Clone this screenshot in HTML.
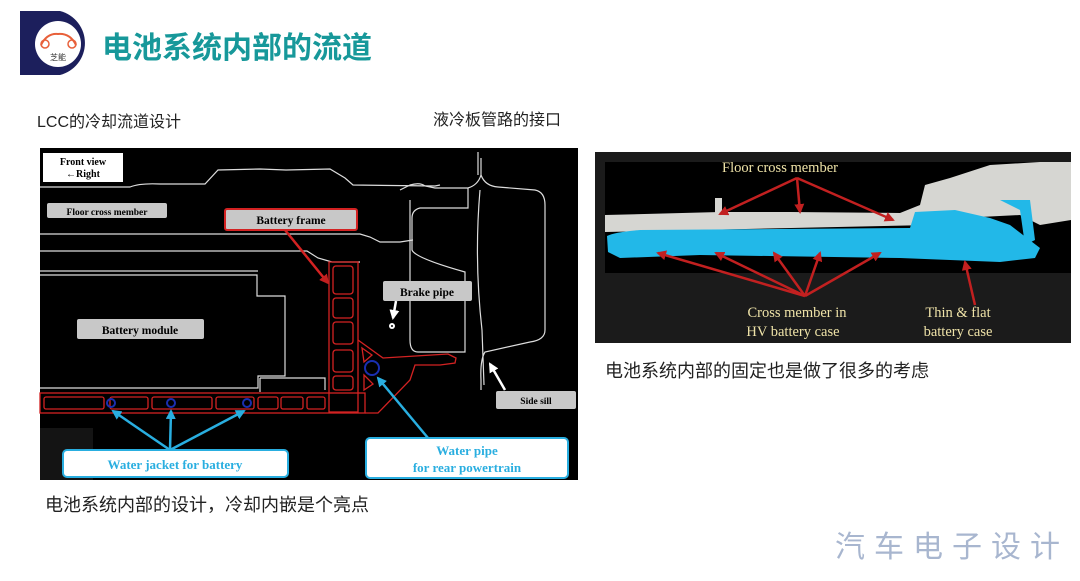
<!DOCTYPE html>
<html><head><meta charset="utf-8"><style>
html,body{margin:0;padding:0;background:#fff;width:1080px;height:581px;overflow:hidden}
.cj{font-family:"Liberation Sans","Noto Sans CJK SC",sans-serif}
</style></head><body>
<svg width="1080" height="581" viewBox="0 0 1080 581" xmlns="http://www.w3.org/2000/svg">
<defs>
<marker id="ab" viewBox="0 0 10 10" refX="8" refY="5" markerWidth="4" markerHeight="4" orient="auto"><path d="M0 0 L10 5 L0 10 Z" fill="#29aee0"/></marker>
<marker id="ar" viewBox="0 0 10 10" refX="8" refY="5" markerWidth="4" markerHeight="4" orient="auto"><path d="M0 0 L10 5 L0 10 Z" fill="#c22020"/></marker>
<marker id="aw" viewBox="0 0 10 10" refX="8" refY="5" markerWidth="4" markerHeight="4" orient="auto"><path d="M0 0 L10 5 L0 10 Z" fill="#fff"/></marker>
</defs>
<!-- logo -->
<path d="M20 11 H60 A33 33 0 0 1 60 75 H20 Z" fill="#1c1f5c"/>
<circle cx="58" cy="44" r="23" fill="#fff"/>
<path d="M41 45 Q47 33 58 34 Q70 33 76 45" fill="none" stroke="#e8603a" stroke-width="2"/>
<circle cx="45" cy="44" r="4" fill="none" stroke="#e8603a" stroke-width="1.5"/>
<circle cx="72" cy="44" r="4" fill="none" stroke="#e8603a" stroke-width="1.5"/>
<text x="58" y="60" font-size="8" text-anchor="middle" fill="#333" class="cj">芝能</text>
<text x="102" y="58" font-size="30" font-weight="bold" fill="#17989a" class="cj">电池系统内部的流道</text>

<text x="37" y="127" font-size="16" fill="#222" class="cj">LCC的冷却流道设计</text>
<text x="433" y="125" font-size="16" fill="#222" class="cj">液冷板管路的接口</text>
<text x="605" y="377" font-size="18" fill="#222" class="cj">电池系统内部的固定也是做了很多的考虑</text>
<text x="45" y="511" font-size="18" fill="#222" class="cj">电池系统内部的设计，冷却内嵌是个亮点</text>
<text x="835" y="557" font-size="30" fill="#a8b6cf" letter-spacing="9" class="cj">汽车电子设计</text>

<!-- left diagram -->
<rect x="40" y="148" width="538" height="332" fill="#000"/>
<rect x="40" y="428" width="53" height="52" fill="#141414"/>
<g fill="none" stroke="#ddd" stroke-width="1.2">
<path d="M40 187 L130 187 Q140 183 160 184 L205 184 L218 170 L260 169 L286 170 L330 169 L345 178 L353 185 L435 186 L440 185"/>
<path d="M40 234 L360 234 L370 237 L380 242 L400 242 L413 240"/>
<path d="M40 251 L307 251 L318 258 L332 262 L360 262"/>
<path d="M40 271 L258 271 M40 275 L257 275 L257 296 L285 296 L285 376 L258 376 L258 388 L40 388"/>
<path d="M260 378 L325 378 L325 390 M260 378 L260 392"/>
<path d="M400 190 L410 185 Q420 182 425 186 L435 188 L468 188 Q478 185 481 175 L481 158 M481 175 Q485 186 498 187 L535 190 Q545 192 545 205 L545 330 Q545 340 530 342 L485 352 Q480 360 481 380 L481 390 M468 188 L468 208 L420 208 Q412 210 412 218 L412 250 Q415 258 465 272 L465 352 L418 352 Q410 352 410 340 L410 200"/>
<path d="M478 152 L478 175 M480 190 Q474 260 482 330 L484 385"/>
</g>
<g fill="none" stroke="#d32222" stroke-width="1.3">
<rect x="40" y="393" width="325" height="20"/>
<rect x="329" y="262" width="29" height="150"/>
<rect x="333" y="266" width="20" height="28" rx="3"/>
<rect x="333" y="298" width="20" height="20" rx="3"/>
<rect x="333" y="322" width="20" height="22" rx="3"/>
<rect x="333" y="350" width="20" height="22" rx="3"/>
<rect x="333" y="376" width="20" height="14" rx="3"/>
<path d="M358 340 L383 358 L448 354 L456 358 L455 363 L440 365 L415 365 L410 380 L378 413 L365 413"/>
<path d="M362 348 L372 355 L364 362 Z M364 375 L373 384 L364 390 Z"/>
<rect x="44" y="397" width="60" height="12" rx="2"/><rect x="110" y="397" width="38" height="12" rx="2"/>
<rect x="152" y="397" width="60" height="12" rx="2"/><rect x="216" y="397" width="38" height="12" rx="2"/>
<rect x="258" y="397" width="20" height="12" rx="2"/><rect x="281" y="397" width="22" height="12" rx="2"/>
<rect x="307" y="397" width="18" height="12" rx="2"/>
</g>
<g fill="none" stroke="#1a2fb0" stroke-width="2">
<circle cx="111" cy="403" r="4"/><circle cx="171" cy="403" r="4"/><circle cx="247" cy="403" r="4"/>
<circle cx="372" cy="368" r="7"/>
</g>
<circle cx="392" cy="326" r="3" fill="#fff"/><circle cx="392" cy="326" r="1" fill="#000"/>
<g stroke="#29aee0" stroke-width="2.5" fill="none" marker-end="url(#ab)">
<path d="M170 450 L113 411"/><path d="M170 450 L171 411"/><path d="M170 450 L244 411"/><path d="M428 438 L378 378"/>
</g>
<path d="M285 230 L328 283" stroke="#d32222" stroke-width="2.5" marker-end="url(#ar)"/>
<g stroke="#fff" stroke-width="2.5" marker-end="url(#aw)"><path d="M396 301 L393 318"/><path d="M505 390 L490 364"/></g>
<rect x="43" y="153" width="80" height="29" fill="#fff"/>
<text x="83" y="165" font-size="10" font-weight="bold" text-anchor="middle" font-family="Liberation Serif">Front view</text>
<text x="83" y="177" font-size="10" font-weight="bold" text-anchor="middle" font-family="Liberation Serif">←Right</text>
<g font-family="Liberation Serif" font-weight="bold" text-anchor="middle">
<rect x="47" y="203" width="120" height="15" rx="2" fill="#c8c8c8"/><text x="107" y="215" font-size="9.5">Floor cross member</text>
<rect x="225" y="209" width="132" height="21" rx="2" fill="#c8c8c8" stroke="#d32222" stroke-width="2"/><text x="291" y="224" font-size="11.5">Battery frame</text>
<rect x="383" y="281" width="89" height="20" rx="2" fill="#c8c8c8"/><text x="427" y="296" font-size="11.5">Brake pipe</text>
<rect x="77" y="319" width="127" height="20" rx="2" fill="#c8c8c8"/><text x="140" y="334" font-size="11.5">Battery module</text>
<rect x="496" y="391" width="80" height="18" rx="2" fill="#c8c8c8"/><text x="536" y="404" font-size="9.5">Side sill</text>
<rect x="63" y="450" width="225" height="27" rx="4" fill="#fff" stroke="#29aee0" stroke-width="2"/><text x="175" y="469" font-size="13" fill="#29aee0">Water jacket for battery</text>
<rect x="366" y="438" width="202" height="40" rx="4" fill="#fff" stroke="#29aee0" stroke-width="2"/><text x="467" y="455" font-size="13" fill="#29aee0">Water pipe</text><text x="467" y="472" font-size="13" fill="#29aee0">for rear powertrain</text>
</g>

<!-- right image -->
<rect x="595" y="152" width="476" height="191" fill="#1b1b1b"/>
<rect x="605" y="162" width="466" height="111" fill="#000"/>
<path d="M605 215 L720 212 L790 212 L900 213 L920 205 L925 185 L950 178 L990 165 L1040 162 L1071 162 L1071 220 L1040 225 L1020 215 L960 218 L930 225 L605 232 Z" fill="#d6d6d2"/>
<rect x="715" y="198" width="7" height="16" fill="#d6d6d2"/>
<path d="M607 236 Q615 232 640 230 L910 228 L915 212 L955 210 L990 218 L1010 225 L1040 248 L1035 258 L1000 262 L900 258 L700 255 L620 258 L608 252 Z" fill="#22b8e8"/>
<path d="M1000 200 L1030 200 L1035 240 L1025 245 L1020 210 Z" fill="#22b8e8"/>
<g stroke="#c22020" stroke-width="2.5" fill="none" marker-end="url(#ar)">
<path d="M797 178 L720 214"/><path d="M797 178 L800 212"/><path d="M797 178 L893 220"/>
<path d="M805 296 L658 253"/><path d="M805 296 L716 253"/><path d="M805 296 L774 253"/><path d="M805 296 L820 253"/><path d="M805 296 L880 253"/><path d="M975 305 L965 262"/>
</g>
<g font-family="Liberation Serif" fill="#efe3a8" font-size="14.5" text-anchor="middle">
<text x="780" y="172">Floor cross member</text>
<text x="797" y="317">Cross member in</text>
<text x="793" y="336">HV battery case</text>
<text x="958" y="317">Thin &amp; flat</text>
<text x="958" y="336">battery case</text>
</g>
</svg>
</body></html>
